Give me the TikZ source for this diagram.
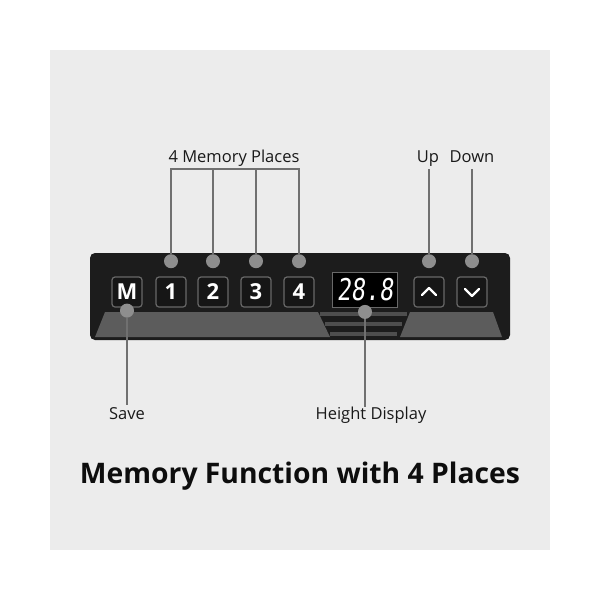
\documentclass[tikz,border=0pt]{standalone}
\usepackage{fontspec}
\setmainfont{Open Sans}
\newfontfamily\segfont[FakeSlant=0.12,FakeStretch=0.78]{DejaVu Sans Mono}
\usetikzlibrary{positioning}
\definecolor{panel}{HTML}{ECECEC}
\definecolor{boxfill}{HTML}{1C1C1C}
\definecolor{ramp}{HTML}{5C5C5C}
\definecolor{stripe}{HTML}{4E4E4E}
\definecolor{keyfill}{HTML}{161616}
\definecolor{keyedge}{HTML}{686868}
\definecolor{pingray}{HTML}{8E8E8E}
\definecolor{linegray}{HTML}{707070}
\begin{document}
\begin{tikzpicture}[x=1pt, y=-1pt,
    key/.style={draw=keyedge, fill=keyfill, line width=1.2pt, rounded corners=3pt,
        minimum size=30pt, inner sep=0pt, text=white, font=\bfseries\fontsize{22}{22}\selectfont},
    pin/.style={circle, fill=pingray, minimum size=14pt, inner sep=0pt},
    callout/.style={draw=linegray, line width=1.6pt},
    lbl/.style={font=\fontsize{16.5}{19}\selectfont, text=black!90, inner sep=0pt, anchor=base}]
    \fill[white] (0,0) rectangle (600,600);
    \fill[panel] (50,50) rectangle (550,550);
    \useasboundingbox (0,0) rectangle (600,600);
    \fill[boxfill, rounded corners=5pt] (90,253) rectangle (510,340);
    \fill[ramp] (105,312) -- (318,312) -- (330,337) -- (95,337) -- cycle;
    \fill[ramp] (410,312) -- (493,312) -- (502,337) -- (400,337) -- cycle;
    \foreach \y/\a in {312/0, 322/5, 332/10} {
        \fill[stripe] (320+\a,\y) rectangle (407-\a,\y+4);
    }
    \foreach \k/\x in {M/127, 1/171, 2/213, 3/256, 4/299} {
        \node[key] (key\k) at (\x,292) {\k};
    }
    \foreach \k in {1, 2, 3, 4} {
        \node[pin, above=8pt of key\k] (pin\k) {};
    }
    \node[pin] (pinM) at ([yshift=-3pt]keyM.south) {};
    \node[draw=keyedge, fill=black, line width=0.8pt, minimum width=65pt, minimum height=35pt,
        inner sep=0pt, text=white, font=\segfont\fontsize{30}{30}\selectfont] (disp) at (365,290) {28.8};
    \node[pin] (pinDisp) at ([yshift=-4pt]disp.south) {};
    \node[key] (keyUp) at (429,292) {};
    \node[key] (keyDown) at (472,292) {};
    \draw[white, line width=2.4pt, line cap=round, line join=round]
        ([shift={(-7pt,-3pt)}]keyUp.center) -- ([shift={(0pt,4pt)}]keyUp.center) -- ([shift={(7pt,-3pt)}]keyUp.center);
    \draw[white, line width=2.4pt, line cap=round, line join=round]
        ([shift={(-7pt,3pt)}]keyDown.center) -- ([shift={(0pt,-4pt)}]keyDown.center) -- ([shift={(7pt,3pt)}]keyDown.center);
    \node[pin, above=8pt of keyUp] (pinUp) {};
    \node[pin, above=8pt of keyDown] (pinDown) {};
    \node[lbl] (memlbl) at (234,162) {4 Memory Places};
    \node[lbl] (uplbl) at (428,162) {Up};
    \node[lbl] (downlbl) at (472,162) {Down};
    \node[lbl] (savelbl) at (127,419) {Save};
    \node[lbl] (heightlbl) at (371,419) {Height Display};
    \node[font=\bfseries\fontsize{28.3}{34}\selectfont, text=black!95, inner sep=0pt, anchor=base] (title) at (300,483) {Memory Function with 4 Places};
    \coordinate (brk) at (234,169);
    \draw[callout] (pin1.north) |- (pin4.north |- brk) -- (pin4.north);
    \foreach \k in {2, 3} {
        \draw[callout] (pin\k.north) -- (pin\k.north |- brk);
    }
    \draw[callout] (pinUp.north) -- (pinUp.north |- brk);
    \draw[callout] (pinDown.north) -- (pinDown.north |- brk);
    \draw[callout] (pinM.south) -- ([yshift=2pt]savelbl.north);
    \draw[callout] (pinDisp.south) -- (pinDisp.south |- savelbl.north);
\end{tikzpicture}
\end{document}
